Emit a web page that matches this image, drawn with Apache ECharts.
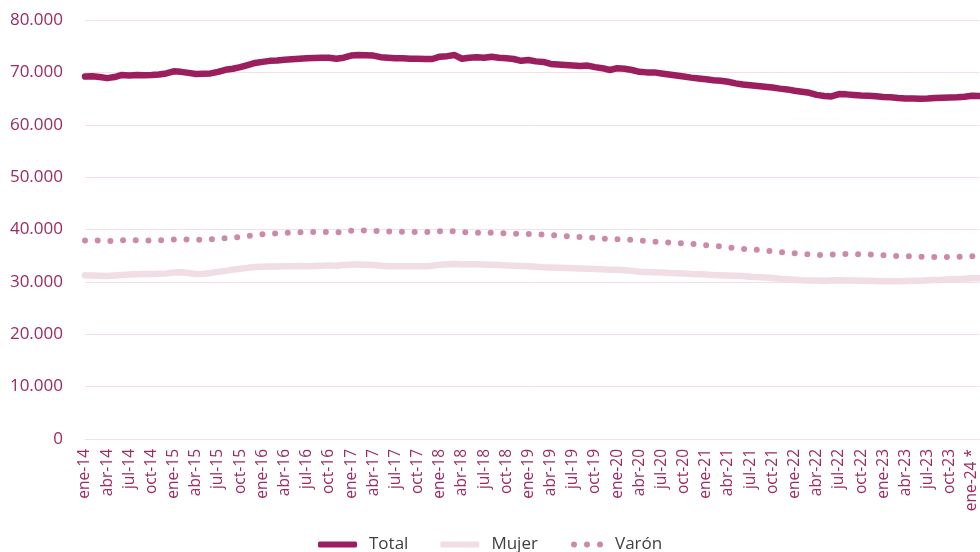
<!DOCTYPE html>
<html>
<head>
<meta charset="utf-8">
<script src="https://cdn.jsdelivr.net/npm/echarts@6/dist/echarts.min.js"></script>
<style>
html,body{margin:0;padding:0;background:#fff}
#chart{width:980px;height:552px}
</style>
</head>
<body>
<div id="chart"></div>
<script>
// meses ene-14 .. feb-24
var mesesNombre = ['ene','feb','mar','abr','may','jun','jul','ago','sep','oct','nov','dic']
var meses = []
for (var a = 14; a <= 24; a++) {
	for (var m = 0; m < 12; m++) {
		if (a == 24 && m > 1) break
		meses.push(mesesNombre[m] + '-' + a + (a == 24 && m == 0 ? ' *' : ''))
	}
}

var total = [
	69200, 69250, 69100, 68900, 69100, 69500, 69400, 69500, 69450, 69500, 69600, 69800,
	70200, 70100, 69900, 69700, 69750, 69800, 70100, 70500, 70700, 71000, 71400, 71800,
	72000, 72200, 72250, 72400, 72500, 72600, 72700, 72750, 72800, 72800, 72600, 72800,
	73200, 73300, 73250, 73200, 72900, 72800, 72700, 72700, 72600, 72600, 72550, 72550,
	73000, 73100, 73300, 72600, 72800, 72900, 72800, 73000, 72800, 72700, 72550, 72200,
	72350, 72100, 72000, 71600, 71500, 71400, 71300, 71200, 71300, 71000, 70800, 70450,
	70800, 70700, 70450, 70100, 70000, 70000, 69800, 69600, 69400, 69200, 69000, 68850,
	68700, 68500, 68400, 68200, 67900, 67700, 67550, 67400, 67250, 67100, 66900, 66750,
	66500, 66300, 66100, 65700, 65500, 65400, 65850, 65800, 65700, 65600, 65550, 65450,
	65300, 65250, 65100, 65000, 65000, 64950, 65000, 65100, 65150, 65200, 65250, 65350,
	65550, 65500
]
var mujer = [
	31250, 31200, 31150, 31100, 31200, 31300, 31400, 31450, 31500, 31500, 31550, 31600,
	31800, 31850, 31700, 31500, 31550, 31700, 31950, 32100, 32300, 32500, 32700, 32850,
	32900, 32950, 32950, 33000, 33000, 33050, 33000, 33050, 33100, 33150, 33100, 33200,
	33300, 33300, 33250, 33200, 33100, 33000, 33000, 33000, 33000, 33000, 33000, 33100,
	33250, 33350, 33400, 33300, 33350, 33350, 33300, 33250, 33200, 33150, 33100, 33050,
	33000, 32900, 32800, 32750, 32700, 32650, 32600, 32550, 32500, 32450, 32400, 32300,
	32300, 32200, 32100, 31950, 31900, 31850, 31800, 31700, 31650, 31600, 31500, 31450,
	31400, 31300, 31250, 31200, 31150, 31100, 31000, 30950, 30850, 30750, 30600, 30500,
	30400, 30300, 30250, 30250, 30200, 30250, 30300, 30250, 30250, 30200, 30200, 30150,
	30100, 30100, 30100, 30150, 30200, 30200, 30300, 30350, 30400, 30500, 30550, 30600,
	30700, 30700
]
var varon = [
	37900, 37950, 37900, 37800, 37850, 37950, 37900, 37950, 37900, 37900, 37950, 38000,
	38100, 38100, 38100, 38050, 38050, 38100, 38200, 38350, 38450, 38600, 38750, 38950,
	39100, 39200, 39250, 39350, 39400, 39450, 39500, 39500, 39500, 39500, 39450, 39550,
	39750, 39800, 39800, 39750, 39700, 39650, 39600, 39550, 39500, 39500, 39500, 39500,
	39650, 39650, 39700, 39500, 39450, 39400, 39400, 39350, 39300, 39250, 39200, 39150,
	39150, 39100, 39050, 38950, 38850, 38750, 38650, 38550, 38500, 38400, 38300, 38150,
	38150, 38100, 38000, 37900, 37800, 37700, 37600, 37500, 37450, 37350, 37250, 37150,
	37000, 36900, 36800, 36600, 36450, 36300, 36200, 36100, 36000, 35850, 35700, 35600,
	35450, 35350, 35250, 35150, 35150, 35200, 35300, 35300, 35300, 35250, 35250, 35200,
	35100, 35000, 34950, 34900, 34850, 34800, 34800, 34750, 34750, 34750, 34800, 34850,
	34900, 34950
]

var colTotal = '#9b1f5e'
var colMujer = '#f0dde5'
var colVaron = '#cc8aaa'
var colTexto = '#9c2a63'
var colGrid = '#f4e1e8'

function miles(v) {
	return String(v).replace(/\B(?=(\d{3})+(?!\d))/g, '.')
}

var chart = echarts.init(document.getElementById('chart'))
var option = {
	animation: false,
	textStyle: { fontFamily: 'Open Sans' },
	grid: { left: 85, right: 0, top: 20, bottom: 113, containLabel: false },
	legend: [{
		data: [{ name: 'Total', icon: 'roundRect' }, { name: 'Mujer', icon: 'roundRect' }],
		left: 313, top: 531,
		itemWidth: 39, itemHeight: 6, itemGap: 32,
		textStyle: { color: '#404040', fontSize: 17, padding: [0, 0, 0, 7] }
	}, {
		data: [{ name: 'Varón', icon: 'path://M3,0A3,3 0 1 1 3,6A3,3 0 1 1 3,0ZM16,0A3,3 0 1 1 16,6A3,3 0 1 1 16,0ZM29,0A3,3 0 1 1 29,6A3,3 0 1 1 29,0Z' }],
		left: 566, top: 531,
		itemWidth: 32, itemHeight: 6,
		textStyle: { color: '#404040', fontSize: 17, padding: [0, 0, 0, 7] }
	}],
	xAxis: {
		type: 'category',
		data: meses,
		boundaryGap: false,
		axisLine: { lineStyle: { color: colGrid } },
		axisTick: { show: false },
		axisLabel: { interval: 2, rotate: 90, color: colTexto, fontSize: 15.5, margin: 10 }
	},
	yAxis: {
		type: 'value',
		min: 0, max: 80000, interval: 10000,
		axisLine: { show: false },
		axisTick: { show: false },
		splitLine: { lineStyle: { color: colGrid } },
		axisLabel: { color: colTexto, fontSize: 17, margin: 22, formatter: miles }
	},
	series: [{
		name: 'Total', type: 'line', data: total, showSymbol: false, z: 3,
		itemStyle: { color: colTotal },
		lineStyle: { color: colTotal, width: 6.5, cap: 'round', join: 'round' }
	}, {
		name: 'Mujer', type: 'line', data: mujer, showSymbol: false,
		itemStyle: { color: colMujer },
		lineStyle: { color: colMujer, width: 6.5, cap: 'round', join: 'round' }
	}, {
		name: 'Varón', type: 'line', data: varon, showSymbol: false,
		itemStyle: { color: colVaron },
		lineStyle: { color: colVaron, width: 6, type: [0, 12.7], cap: 'round', join: 'round' }
	}]
}
chart.setOption(option)
</script>
</body>
</html>
